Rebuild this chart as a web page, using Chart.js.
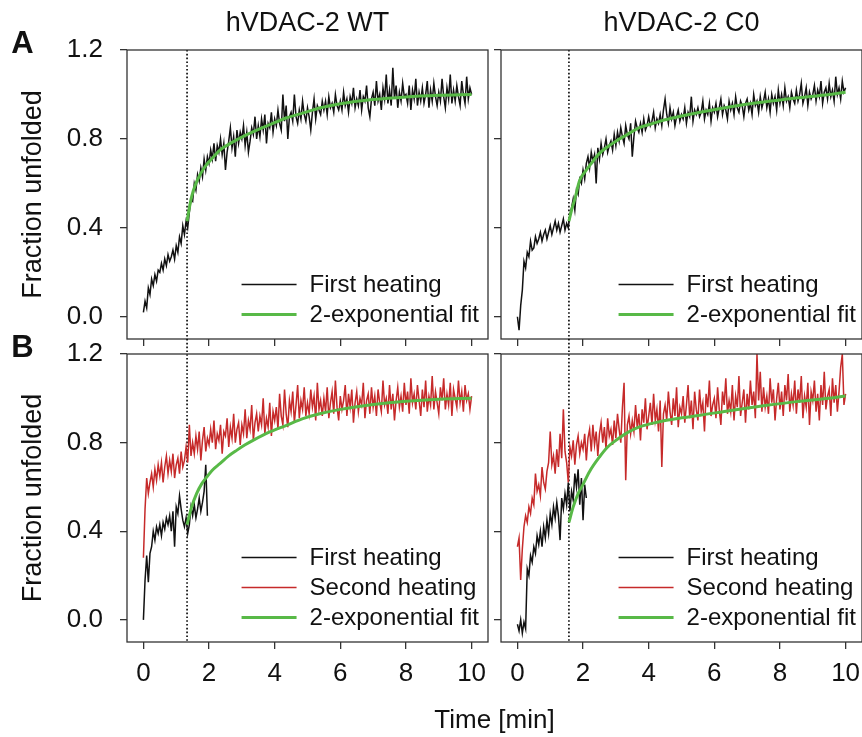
<!DOCTYPE html>
<html>
<head>
<meta charset="utf-8">
<script src="https://cdn.jsdelivr.net/npm/chart.js@4.4.1/dist/chart.umd.min.js"></script>
<style>
  body { margin: 0; background: #fff; }
  #wrap { position: relative; width: 862px; height: 737px; overflow: hidden; background: #fff; }
  #wrap canvas { position: absolute; left: 0; top: 0; }
</style>
</head>
<body>
<div id="wrap">
  <canvas id="cA1" width="862" height="737"></canvas>
  <canvas id="cA2" width="862" height="737"></canvas>
  <canvas id="cB1" width="862" height="737"></canvas>
  <canvas id="cB2" width="862" height="737"></canvas>
</div>
<script>
// traces are sampled every 0.05 min, starting at t = 0
const dt = 0.05;

// hVDAC-2 WT, first heating (panel A)
const wtFirstA = [
  0.02, 0.07, 0.04, 0.13, 0.10, 0.17, 0.14, 0.19, 0.16, 0.21,
  0.20, 0.24, 0.21, 0.26, 0.23, 0.28, 0.25, 0.27, 0.30, 0.26,
  0.32, 0.29, 0.36, 0.33, 0.41, 0.37, 0.43, 0.40, 0.47, 0.53,
  0.52, 0.60, 0.57, 0.64, 0.61, 0.67, 0.63, 0.71, 0.66, 0.72,
  0.69, 0.75, 0.71, 0.78, 0.70, 0.77, 0.74, 0.80, 0.73, 0.78,
  0.66, 0.74, 0.79, 0.85, 0.76, 0.81, 0.72, 0.84, 0.78, 0.83,
  0.80, 0.86, 0.77, 0.83, 0.74, 0.79, 0.85, 0.82, 0.90, 0.80,
  0.86, 0.81, 0.89, 0.84, 0.91, 0.78, 0.87, 0.85, 0.92, 0.83,
  0.89, 0.86, 0.93, 0.87, 0.84, 1.00, 0.88, 0.95, 0.80, 0.90,
  0.92, 0.88, 1.00, 0.90, 0.87, 0.93, 0.89, 0.97, 0.91, 0.88,
  0.94, 0.90, 0.84, 0.92, 0.98, 0.89, 0.95, 0.93, 0.91, 0.97,
  0.93, 0.97, 0.91, 0.99, 0.94, 0.96, 0.92, 1.00, 0.95, 0.93,
  0.97, 0.93, 1.01, 0.95, 0.98, 0.92, 0.99, 0.96, 1.03, 0.94,
  0.98, 0.95, 1.02, 0.93, 0.99, 0.97, 1.04, 0.94, 0.90, 0.98,
  1.01, 0.95, 1.06, 0.97, 1.00, 0.93, 1.03, 0.98, 1.09, 0.96,
  1.02, 0.95, 1.12, 0.98, 1.04, 0.94, 1.01, 0.97, 1.05, 0.99,
  1.00, 0.96, 1.04, 0.93, 1.02, 0.98, 1.07, 0.95, 1.01, 0.97,
  1.03, 0.96, 1.00, 1.06, 0.94, 1.02, 0.97, 1.05, 0.99, 0.95,
  1.01, 0.97, 1.07, 0.99, 0.94, 1.03, 0.98, 1.09, 0.96, 1.02,
  0.97, 1.04, 0.99, 0.95, 1.06, 1.00, 0.96, 1.08, 0.98, 1.03,
  1.00
];

// hVDAC-2 C0, first heating (panel A)
const c0FirstA = [
  0.00, -0.06, 0.05, 0.12, 0.25, 0.22, 0.29, 0.27, 0.34, 0.30,
  0.31, 0.36, 0.33, 0.35, 0.38, 0.34, 0.37, 0.39, 0.35, 0.38,
  0.41, 0.37, 0.40, 0.43, 0.39, 0.42, 0.38, 0.41, 0.44, 0.39,
  0.42, 0.40, 0.46, 0.49, 0.53, 0.48, 0.57, 0.55, 0.62, 0.60,
  0.66, 0.62, 0.69, 0.72, 0.67, 0.74, 0.70, 0.73, 0.60, 0.76,
  0.71, 0.78, 0.73, 0.76, 0.80, 0.74, 0.77, 0.79, 0.75, 0.82,
  0.77, 0.83, 0.79, 0.85, 0.81, 0.78, 0.86, 0.82, 0.80, 0.87,
  0.72, 0.81, 0.88, 0.85, 0.83, 0.87, 0.83, 0.89, 0.84, 0.86,
  0.90, 0.86, 0.88, 0.92, 0.85, 0.89, 0.87, 0.91, 0.86, 0.93,
  0.98, 0.91, 0.87, 0.94, 0.89, 0.92, 0.86, 0.90, 0.93, 0.88,
  0.91, 0.89, 0.94, 0.87, 0.92, 0.90, 0.99, 0.88, 0.93, 0.91,
  0.94, 0.90, 0.92, 0.97, 0.89, 0.93, 0.91, 0.96, 0.88, 0.94,
  0.92, 0.96, 0.90, 0.94, 0.98, 0.91, 0.95, 0.93, 0.89, 0.97,
  0.93, 0.96, 0.91, 0.99, 0.94, 0.92, 0.97, 0.95, 0.90, 0.96,
  0.98, 0.93, 0.96, 0.91, 1.00, 0.95, 0.97, 0.92, 0.99, 0.94,
  0.97, 1.01, 0.94, 0.98, 0.92, 1.00, 0.96, 0.99, 0.93, 1.02,
  0.96, 1.00, 0.95, 1.03, 0.97, 0.99, 0.94, 1.01, 0.98, 0.96,
  1.02, 0.97, 1.00, 1.05, 0.96, 0.99, 1.03, 0.95, 1.01, 0.98,
  1.00, 1.04, 0.97, 1.02, 0.99, 1.06, 0.96, 1.01, 1.03, 0.98,
  1.05, 0.99, 1.02, 0.97, 1.08, 1.00, 1.03, 0.98, 1.06, 1.01,
  1.03
];

// panel B: first heating (short) and second heating
const wtFirstB = [
  0.00, 0.18, 0.29, 0.17, 0.30, 0.33, 0.40, 0.36, 0.42, 0.39,
  0.43, 0.38, 0.44, 0.41, 0.46, 0.43, 0.47, 0.40, 0.49, 0.33,
  0.51, 0.48, 0.56, 0.50, 0.45, 0.42, 0.46, 0.39, 0.43, 0.51,
  0.47, 0.52, 0.46, 0.50, 0.55, 0.49, 0.53, 0.58, 0.70, 0.47
];
const wtSecondB = [
  0.28, 0.50, 0.64, 0.57, 0.62, 0.66, 0.60, 0.68, 0.63, 0.70,
  0.65, 0.71, 0.62, 0.69, 0.74, 0.66, 0.72, 0.67, 0.75, 0.64,
  0.70, 0.73, 0.66, 0.76, 0.69, 0.72, 0.78, 0.71, 0.88, 0.74,
  0.80, 0.75, 0.83, 0.77, 0.85, 0.72, 0.81, 0.87, 0.76, 0.82,
  0.79, 0.86, 0.80, 0.90, 0.77, 0.84, 0.81, 0.88, 0.75, 0.85,
  0.83, 0.91, 0.78, 0.87, 0.82, 0.93, 0.80, 0.86, 0.89, 0.79,
  0.88, 0.84, 0.95, 0.82, 0.90, 0.86, 0.97, 0.81, 0.89, 0.93,
  0.85, 0.92, 0.88, 1.00, 0.84, 0.91, 0.87, 0.98, 0.83, 0.94,
  0.90, 0.96, 0.86, 1.02, 0.92, 0.88, 1.04, 0.93, 0.87, 0.99,
  0.94, 1.03, 0.89, 0.97, 1.06, 0.91, 0.99, 0.95, 1.05, 0.92,
  0.98, 0.93, 1.04, 0.96, 1.01, 0.90, 1.07, 0.95, 0.99, 0.92,
  1.00, 0.94, 1.05, 0.91, 0.98, 1.03, 0.93, 1.08, 0.96, 0.90,
  1.01, 0.95, 0.99, 1.06, 0.92, 1.02, 0.96, 1.04, 0.89, 0.98,
  1.03, 0.94, 1.00, 0.97, 1.07, 0.91, 0.99, 1.02, 0.93, 1.05,
  0.96, 1.01, 0.92, 1.04, 0.98, 0.94, 1.08, 0.97, 1.00, 0.93,
  1.06, 0.95, 1.02, 0.90, 0.99, 1.05, 0.96, 1.01, 0.94, 1.07,
  0.97, 1.03, 0.93, 1.09, 0.98, 1.02, 0.95, 1.06, 0.99, 0.92,
  1.04, 0.96, 1.08, 0.94, 1.01, 0.97, 1.10, 0.95, 1.03, 0.98,
  0.93, 1.05, 0.99, 1.09, 0.95, 1.02, 0.97, 1.07, 0.92, 1.04,
  1.00, 0.96, 1.08, 0.98, 1.03, 0.94, 1.06, 0.99, 1.02, 0.95,
  1.01
];
const c0FirstB = [
  -0.02, -0.05, 0.00, -0.06, -0.01, -0.04, 0.23, 0.20, 0.29, 0.26,
  0.33, 0.30, 0.38, 0.34, 0.40, 0.33, 0.42, 0.37, 0.45, 0.39,
  0.48, 0.43, 0.51, 0.46, 0.53, 0.47, 0.36, 0.55, 0.50, 0.57,
  0.52, 0.62, 0.49, 0.58, 0.54, 0.66, 0.60, 0.68, 0.52, 0.64,
  0.45, 0.61, 0.55
];
const c0SecondB = [
  0.33, 0.37, 0.18, 0.32, 0.42, 0.47, 0.44, 0.51, 0.48, 0.55,
  0.52, 0.66, 0.58, 0.61, 0.56, 0.69, 0.62, 0.59, 0.67, 0.71,
  0.85, 0.70, 0.74, 0.66, 0.77, 0.69, 0.84, 0.73, 0.95, 0.76,
  0.71, 0.62, 0.78, 0.74, 0.81, 0.70, 0.79, 0.83, 0.75, 0.80,
  0.77, 0.84, 0.72, 0.82, 0.86, 0.76, 0.88, 0.79, 0.85, 0.74,
  0.84, 0.89, 0.80, 0.87, 0.77, 0.91, 0.83, 0.86, 0.79, 0.90,
  0.82, 0.93, 0.86, 0.80, 0.96, 1.07, 0.63, 0.88, 0.92, 0.84,
  0.90, 0.85, 0.97, 0.87, 0.93, 0.81, 0.95, 0.89, 1.00, 0.86,
  0.92, 0.98, 0.88, 1.02, 0.90, 0.95, 0.85, 0.99, 0.69, 0.93,
  0.97, 0.90, 1.03, 0.94, 0.88, 1.00, 0.92, 1.05, 0.87, 0.96,
  0.93, 1.01, 0.89, 0.97, 1.06, 0.91, 0.99, 0.86, 1.03, 0.95,
  0.90, 1.04, 0.94, 0.98, 0.85, 1.02, 0.96, 1.08, 0.92, 0.97,
  1.00, 0.91, 1.05, 0.95, 0.88, 1.03, 0.97, 1.09, 0.93, 0.99,
  0.94, 1.06, 0.90, 1.01, 0.96, 1.10, 0.92, 0.98, 1.04, 0.89,
  1.02, 0.95, 1.08, 0.97, 1.03, 0.91, 1.20, 0.99, 1.12, 0.94,
  1.05, 0.96, 1.01, 0.93, 1.09, 0.98, 1.04, 0.90, 1.00, 1.07,
  0.95, 1.03, 0.92, 1.06, 0.99, 1.11, 0.94, 1.02, 0.97, 1.08,
  0.93, 1.04, 0.98, 1.10, 0.91, 1.01, 0.96, 1.07, 0.88, 1.03,
  0.99, 1.08, 0.94, 1.02, 0.90, 1.06, 0.97, 1.12, 0.95, 1.01,
  1.04, 0.92, 1.09, 0.98, 1.06, 0.94, 1.03, 1.14, 1.20, 0.97,
  1.02
];

// 2-exponential fits of the first heating
const wtFitATime = [1.33, 1.4, 1.47, 1.6, 1.75, 1.9, 2.05, 2.33, 2.65, 3.0, 3.35, 3.85, 4.35, 4.85, 5.4, 6.0, 7.0, 8.0, 9.0, 10.0];
const wtFitA     = [0.43, 0.49, 0.54, 0.60, 0.645, 0.68, 0.705, 0.75, 0.78, 0.808, 0.833, 0.864, 0.894, 0.916, 0.94, 0.958, 0.977, 0.989, 0.996, 1.0];
const c0FitATime = [1.57, 1.65, 1.75, 1.9, 2.05, 2.2, 2.5, 2.75, 3.0, 3.35, 3.7, 4.1, 4.5, 5.0, 5.57, 6.5, 7.5, 8.5, 9.5, 10.0];
const c0FitA     = [0.43, 0.48, 0.53, 0.615, 0.65, 0.68, 0.735, 0.765, 0.79, 0.82, 0.85, 0.868, 0.886, 0.903, 0.92, 0.945, 0.966, 0.984, 1.0, 1.01];
const wtFitBTime = [1.33, 1.47, 1.62, 1.78, 1.93, 2.13, 2.33, 2.6, 2.84, 3.1, 3.34, 3.85, 4.36, 4.86, 5.37, 6.0, 7.0, 8.0, 9.0, 10.0];
const wtFitB     = [0.43, 0.51, 0.57, 0.615, 0.645, 0.68, 0.705, 0.74, 0.765, 0.79, 0.81, 0.848, 0.878, 0.908, 0.93, 0.95, 0.972, 0.987, 0.996, 1.0];
const c0FitBTime = [1.57, 1.7, 1.85, 1.96, 2.2, 2.5, 2.75, 3.0, 3.35, 3.7, 4.1, 4.5, 5.0, 5.5, 6.5, 7.5, 8.5, 9.5, 10.0];
const c0FitB     = [0.44, 0.51, 0.57, 0.60, 0.67, 0.735, 0.78, 0.81, 0.845, 0.87, 0.887, 0.90, 0.912, 0.922, 0.945, 0.966, 0.985, 1.0, 1.01];

// fit start (dotted line), min
const wtFitStart = 1.33;
const c0FitStart = 1.57;

const xTicks = [0, 2, 4, 6, 8, 10];
const xTickLabels = ['0', '2', '4', '6', '8', '10'];
const yTicks = [0, 0.4, 0.8, 1.2];
const yTickLabels = ['0.0', '0.4', '0.8', '1.2'];
const panelTitles = ['hVDAC-2 WT', 'hVDAC-2 C0'];

const FONT = '"Liberation Sans", Arial, Helvetica, sans-serif';
Chart.defaults.font.family = FONT;
Chart.defaults.color = '#111';

const W = 862, H = 737;
const BLACK = '#111', RED = '#c62a2a', GREEN = '#58b947';

function sampled(vals) {
  return vals.map((y, i) => ({x: +(i * dt).toFixed(2), y: y}));
}
function paired(ts, vals) {
  return ts.map((t, i) => ({x: t, y: vals[i]}));
}

function trace(label, vals, color, order) {
  return {label: label, data: sampled(vals), borderColor: color, borderWidth: 1.5,
          pointRadius: 0, tension: 0, order: order};
}
function fit(ts, vals) {
  return {label: '2-exponential fit', data: paired(ts, vals), borderColor: GREEN, borderWidth: 3,
          pointRadius: 0, cubicInterpolationMode: 'monotone', order: 0};
}

// box round the plot area
const frameBox = {
  id: 'frameBox',
  afterDatasetsDraw(chart) {
    const {ctx, chartArea: a} = chart;
    ctx.save();
    ctx.strokeStyle = '#333';
    ctx.lineWidth = 1.3;
    ctx.strokeRect(a.left, a.top, a.right - a.left, a.bottom - a.top);
    ctx.restore();
  }
};

// dotted line where the fit starts; lower panels join the upper one
const fitStartLine = {
  id: 'fitStartLine',
  beforeDatasetsDraw(chart, args, opts) {
    if (opts.at == null) return;
    const {ctx, chartArea: a} = chart;
    const x = chart.scales.x.getPixelForValue(opts.at);
    const top = opts.joinTo ? Chart.getChart(opts.joinTo).chartArea.bottom : a.top;
    ctx.save();
    ctx.strokeStyle = '#000';
    ctx.lineWidth = 1.6;
    ctx.setLineDash([1.6, 2.2]);
    ctx.beginPath();
    ctx.moveTo(x, top);
    ctx.lineTo(x, a.bottom);
    ctx.stroke();
    ctx.restore();
  }
};

// legend in the lower right corner of the plot area
const cornerLegend = {
  id: 'cornerLegend',
  afterDatasetsDraw(chart, args, opts) {
    const {ctx, chartArea: a} = chart;
    const sets = chart.data.datasets;
    ctx.save();
    ctx.font = '24px ' + FONT;
    const wMax = Math.max(...sets.map(d => ctx.measureText(d.label).width));
    const tx = a.right - opts.pad - wMax;
    sets.forEach((d, i) => {
      const y = a.bottom - 24.5 - (sets.length - 1 - i) * 30;
      ctx.strokeStyle = d.borderColor;
      ctx.lineWidth = Math.max(d.borderWidth, 1.5);
      ctx.beginPath();
      ctx.moveTo(tx - 68, y);
      ctx.lineTo(tx - 13, y);
      ctx.stroke();
      ctx.fillStyle = '#111';
      ctx.textAlign = 'left';
      ctx.textBaseline = 'middle';
      ctx.fillText(d.label, tx, y + 1);
    });
    ctx.restore();
  }
};

// panel titles, panel letters and the shared time axis title
const panelText = {
  id: 'panelText',
  afterDraw(chart, args, opts) {
    const {ctx, chartArea: a} = chart;
    ctx.save();
    ctx.fillStyle = '#111';
    ctx.textBaseline = 'alphabetic';
    ctx.textAlign = 'center';
    if (opts.title) {
      ctx.font = '27px ' + FONT;
      ctx.fillText(opts.title, (a.left + Math.min(a.right, W + 1)) / 2, a.top - 19);
    }
    if (opts.letter) {
      ctx.font = 'bold 31px ' + FONT;
      ctx.fillText(opts.letter, a.left - 104.5, a.top + 3);
    }
    if (opts.xTitle) {
      const left = Chart.getChart(opts.xTitle.from).chartArea.left;
      ctx.font = '26px ' + FONT;
      ctx.fillText(opts.xTitle.text, (left + a.right) / 2, a.bottom + 86);
    }
    ctx.restore();
  }
};

function makeChart(id, p) {
  const yWidth = p.left ? 127 : 11;
  const xHeight = p.bottomRow ? 60 : 10;
  return new Chart(document.getElementById(id), {
    type: 'line',
    data: {datasets: p.datasets},
    options: {
      responsive: false,
      animation: false,
      events: [],
      layout: {padding: {
        left: p.frame.l - yWidth,
        top: p.frame.t,
        right: W - p.frame.r,
        bottom: H - p.frame.b - xHeight
      }},
      scales: {
        x: {
          type: 'linear', min: -0.5, max: 10.5,
          afterBuildTicks: s => { s.ticks = xTicks.map(v => ({value: v})); },
          afterFit: s => { s.height = xHeight; s.paddingLeft = 0; s.paddingRight = 0; },
          border: {display: false},
          grid: {drawOnChartArea: false, drawTicks: true, tickLength: 7, color: '#333', lineWidth: 1.3},
          ticks: {display: p.bottomRow, autoSkip: false, maxRotation: 0, padding: 9,
                  font: {size: 26}, color: '#111', callback: (v, i) => xTickLabels[i]}
        },
        y: {
          type: 'linear', min: -0.1, max: 1.2,
          afterBuildTicks: s => { s.ticks = yTicks.map(v => ({value: v})); },
          afterFit: s => { s.width = yWidth; s.paddingTop = 0; s.paddingBottom = 0; },
          border: {display: false},
          grid: {drawOnChartArea: false, drawTicks: true, tickLength: 7, color: '#333', lineWidth: 1.3},
          ticks: {display: p.left, autoSkip: false, padding: 17,
                  font: {size: 26}, color: '#111', callback: (v, i) => yTickLabels[i]},
          title: {display: p.left, text: 'Fraction unfolded', font: {size: 27}, color: '#111',
                  padding: {top: 17, bottom: 0}}
        }
      },
      plugins: {
        legend: {display: false},
        tooltip: {enabled: false},
        fitStartLine: {at: p.dotAt, joinTo: p.joinTo},
        cornerLegend: {pad: p.legendPad},
        panelText: {title: p.title, letter: p.letter, xTitle: p.xTitle}
      }
    },
    plugins: [frameBox, fitStartLine, cornerLegend, panelText]
  });
}

// the right column runs to the page edge, so its right border is cut off
makeChart('cA1', {
  frame: {l: 127, t: 50, r: 488, b: 339}, left: true, bottomRow: false, legendPad: 9,
  dotAt: wtFitStart, title: panelTitles[0], letter: 'A',
  datasets: [trace('First heating', wtFirstA, BLACK, 1), fit(wtFitATime, wtFitA)]
});
makeChart('cA2', {
  frame: {l: 501, t: 50, r: 864, b: 339}, left: false, bottomRow: false, legendPad: 6,
  dotAt: c0FitStart, title: panelTitles[1],
  datasets: [trace('First heating', c0FirstA, BLACK, 1), fit(c0FitATime, c0FitA)]
});
makeChart('cB1', {
  frame: {l: 127, t: 354, r: 488, b: 642}, left: true, bottomRow: true, legendPad: 9,
  dotAt: wtFitStart, joinTo: 'cA1', letter: 'B',
  datasets: [trace('First heating', wtFirstB, BLACK, 1), trace('Second heating', wtSecondB, RED, 2),
             fit(wtFitBTime, wtFitB)]
});
makeChart('cB2', {
  frame: {l: 501, t: 354, r: 864, b: 642}, left: false, bottomRow: true, legendPad: 6,
  dotAt: c0FitStart, joinTo: 'cA2', xTitle: {text: 'Time [min]', from: 'cB1'},
  datasets: [trace('First heating', c0FirstB, BLACK, 1), trace('Second heating', c0SecondB, RED, 2),
             fit(c0FitBTime, c0FitB)]
});
</script>
</body>
</html>
